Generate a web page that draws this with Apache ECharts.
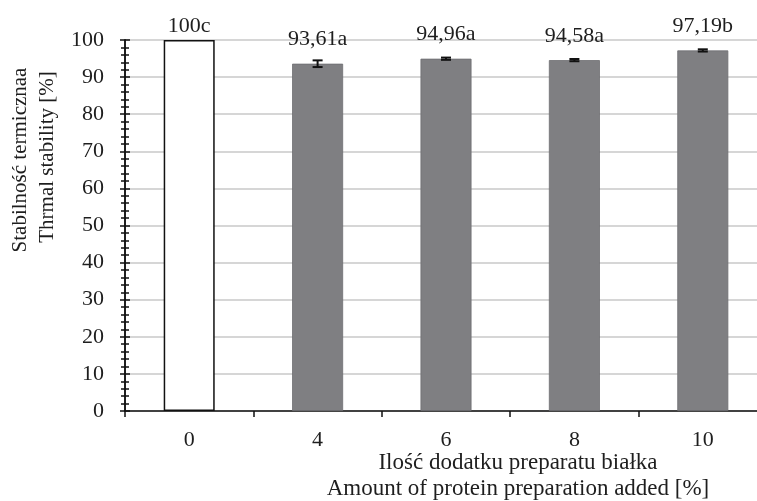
<!DOCTYPE html>
<html>
<head>
<meta charset="utf-8">
<script src="https://cdn.jsdelivr.net/npm/echarts@6/dist/echarts.min.js"></script>
<style>html,body{margin:0;padding:0;background:#fff;overflow:hidden}#c{width:767px;height:501px}</style>
</head>
<body>
<div id="c"></div>
<script>
const categories = ['0', '4', '6', '8', '10'];
const values = [100, 93.61, 94.96, 94.58, 97.19];
const errors = [0, 0.9, 0.3, 0.3, 0.3];
const barLabels = ['100c', '93,61a', '94,96a', '94,58a', '97,19b'];
const yTicks = [0, 10, 20, 30, 40, 50, 60, 70, 80, 90, 100];
const xTitle = ['Ilość dodatku preparatu białka', 'Amount of protein preparation added [%]'];
const yTitle = ['Stabilność termicznaa', 'Thrmal stability [%]'];

const FONT = 'Liberation Serif';
const TXT = '#1e1e1e';

const chart = echarts.init(document.getElementById('c'), null, {renderer: 'canvas'});

const barData = values.map((v, i) => ({
  value: v,
  itemStyle: i === 0
    ? {color: '#ffffff', borderColor: '#111', borderWidth: 1.5}
    : {color: '#7f7f82', borderColor: '#6f6f72', borderWidth: 0.8},
  label: {distance: errors[i] > 0 ? 13 : 3}
}));

const errData = values.map((v, i) => [i, v - errors[i], v + errors[i], errors[i]]);

const yAxisBase = {
  type: 'value', min: yTicks[0], max: yTicks[yTicks.length - 1], interval: 10,
  axisLine: {show: true, lineStyle: {color: '#111', width: 1.5}},
  minorTick: {show: true, splitNumber: 5, length: 4, lineStyle: {color: '#111', width: 1.5}},
};

chart.setOption({
  animation: false,
  grid: {left: 125, right: 0, top: 40, bottom: 90, containLabel: false},
  xAxis: {
    type: 'category', data: categories, boundaryGap: true,
    axisLine: {lineStyle: {color: '#111', width: 1.5}},
    axisTick: {show: true, length: 6, inside: false, lineStyle: {color: '#111', width: 1.5}},
    axisLabel: {fontFamily: FONT, fontSize: 22, color: TXT, margin: 18},
    splitLine: {show: false}
  },
  yAxis: [
    Object.assign({}, yAxisBase, {
      axisTick: {show: true, length: 5, inside: false, lineStyle: {color: '#111', width: 1.5}},
      axisLabel: {fontFamily: FONT, fontSize: 22, color: TXT, margin: 21},
      splitLine: {show: true, lineStyle: {color: '#c8c8c8', width: 1.5}}
    }),
    Object.assign({}, yAxisBase, {
      position: 'left', offset: 0,
      axisTick: {show: true, length: 5, inside: true, lineStyle: {color: '#111', width: 1.5}},
      minorTick: {show: true, splitNumber: 5, length: 4, lineStyle: {color: '#111', width: 1.5}},
      axisLabel: {show: false},
      splitLine: {show: false}
    })
  ],
  series: [
    {
      type: 'bar', data: barData, barWidth: 51, yAxisIndex: 0,
      label: {
        show: true, position: 'top', fontFamily: FONT, fontSize: 22, color: TXT,
        formatter: p => barLabels[p.dataIndex]
      }
    },
    {
      type: 'custom', yAxisIndex: 0, data: errData, z: 5,
      renderItem: function (params, api) {
        if (api.value(3) <= 0) return null;
        const x = api.value(0);
        const lo = api.coord([x, api.value(1)]);
        const hi = api.coord([x, api.value(2)]);
        const cw = 5;
        const st = {stroke: '#111', lineWidth: 2};
        return {
          type: 'group',
          children: [
            {type: 'line', shape: {x1: lo[0], y1: lo[1], x2: hi[0], y2: hi[1]}, style: st},
            {type: 'line', shape: {x1: hi[0] - cw, y1: hi[1], x2: hi[0] + cw, y2: hi[1]}, style: st},
            {type: 'line', shape: {x1: lo[0] - cw, y1: lo[1], x2: lo[0] + cw, y2: lo[1]}, style: st}
          ]
        };
      }
    }
  ],
  graphic: [
    {type: 'text', x: 518, y: 463, style: {text: xTitle[0], font: '23px "' + FONT + '"', fill: TXT, textAlign: 'center', textVerticalAlign: 'middle'}},
    {type: 'text', x: 518, y: 489, style: {text: xTitle[1], font: '23px "' + FONT + '"', fill: TXT, textAlign: 'center', textVerticalAlign: 'middle'}},
    {type: 'text', x: 20, y: 160, rotation: Math.PI / 2, style: {text: yTitle[0], font: '21px "' + FONT + '"', fill: TXT, textAlign: 'center', textVerticalAlign: 'middle'}},
    {type: 'text', x: 47, y: 157, rotation: Math.PI / 2, style: {text: yTitle[1], font: '21px "' + FONT + '"', fill: TXT, textAlign: 'center', textVerticalAlign: 'middle'}}
  ]
});
</script>
</body>
</html>
